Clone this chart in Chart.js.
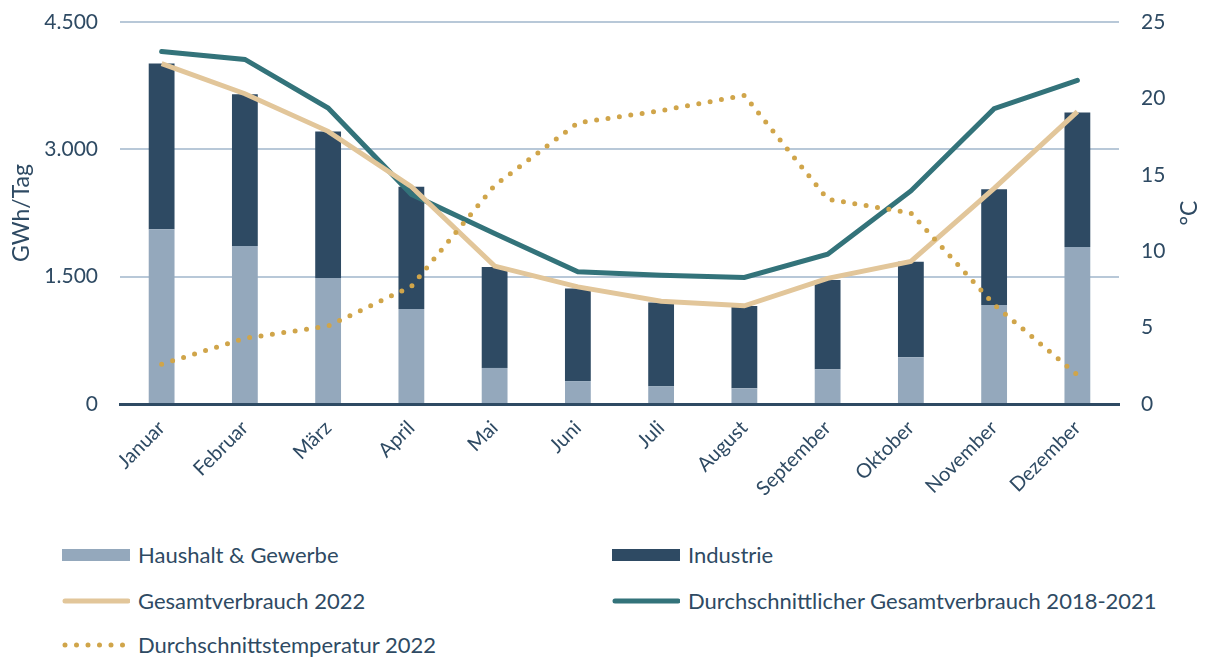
<!DOCTYPE html>
<html>
<head>
<meta charset="utf-8">
<script src="https://cdn.jsdelivr.net/npm/chart.js@4"></script>
<style>
  body { margin: 0; background: #fff; font-family: Lato, sans-serif; }
  #wrap { position: relative; width: 1206px; height: 530px; }
  #legend { position: absolute; left: 0; top: 530px; width: 1206px; height: 127px; }
  .item { position: absolute; display: flex; align-items: center; color: #2e4a63; font-size: 22px; white-space: nowrap; }
  .sym { width: 68px; height: 12px; margin-right: 8px; }
</style>
</head>
<body>
<div id="wrap"><canvas id="chart" width="1206" height="530"></canvas></div>
<div id="legend"></div>
<script>
const months = ['Januar', 'Februar', 'März', 'April', 'Mai', 'Juni', 'Juli', 'August', 'September', 'Oktober', 'November', 'Dezember'];
const haushalt = [2060, 1860, 1485, 1120, 425, 270, 210, 185, 410, 550, 1165, 1850];
const industrie = [1950, 1790, 1725, 1440, 1190, 1090, 985, 970, 1050, 1125, 1365, 1585];
const gesamt2022 = [4010, 3655, 3212, 2560, 1625, 1380, 1210, 1157, 1480, 1680, 2540, 3445];
const gesamtAvg = [4153, 4059, 3486, 2470, 2008, 1557, 1518, 1490, 1765, 2510, 3479, 3812];
const temperatur = [2.6, 4.3, 5.1, 7.7, 14.3, 18.4, 19.2, 20.2, 13.4, 12.5, 6.5, 1.9];
const leftTicks = [0, 1500, 3000, 4500];
const rightTicks = [0, 5, 10, 15, 20, 25];

const textColor = '#2e4a63';
const font = { family: 'Lato', size: 21 };

function fmt(v) {
  return String(v).replace(/\B(?=(\d{3})+(?!\d))/g, '.');
}

// right axis title reads bottom-to-top like the left one
const rightTitle = {
  id: 'rightTitle',
  afterDraw(c) {
    const ctx = c.ctx;
    const s = c.scales.y1;
    ctx.save();
    ctx.translate(1190, (s.top + s.bottom) / 2);
    ctx.rotate(-Math.PI / 2);
    ctx.font = '23px Lato';
    ctx.fillStyle = textColor;
    ctx.textAlign = 'center';
    ctx.textBaseline = 'middle';
    ctx.fillText('°C', 0, 0);
    ctx.restore();
  }
};

function fixBox(s, w) {
  s.width = w;
  s.paddingTop = 0;
  s.paddingBottom = 0;
}

const chart = new Chart(document.getElementById('chart'), {
  data: {
    labels: months,
    datasets: [
      { type: 'line', label: 'Durchschnittstemperatur 2022', data: temperatur, yAxisID: 'y1',
        borderColor: '#d0a54a', borderWidth: 5, borderDash: [0, 11.5], borderCapStyle: 'round',
        pointRadius: 0, tension: 0, order: 0, stack: 't' },
      { type: 'line', label: 'Gesamtverbrauch 2022', data: gesamt2022, yAxisID: 'y',
        borderColor: '#e2c69a', borderWidth: 5, pointRadius: 0, tension: 0, order: 1, stack: 'g' },
      { type: 'line', label: 'Durchschnittlicher Gesamtverbrauch 2018-2021', data: gesamtAvg, yAxisID: 'y',
        borderColor: '#33737a', borderWidth: 5, borderCapStyle: 'round', pointRadius: 0, tension: 0, order: 2, stack: 'a' },
      { type: 'bar', label: 'Haushalt & Gewerbe', data: haushalt, yAxisID: 'y',
        backgroundColor: '#94a8bc', stack: 'bars', order: 3, barPercentage: 0.31, categoryPercentage: 1 },
      { type: 'bar', label: 'Industrie', data: industrie, yAxisID: 'y',
        backgroundColor: '#2e4a63', stack: 'bars', order: 3, barPercentage: 0.31, categoryPercentage: 1 }
    ]
  },
  options: {
    responsive: false,
    animation: false,
    layout: { padding: { top: 22, left: 0, right: 0, bottom: 0 } },
    plugins: { legend: { display: false }, tooltip: { enabled: false } },
    scales: {
      x: {
        stacked: true,
        grid: { display: false },
        border: { display: true, color: '#2e4a63', width: 3 },
        ticks: { color: textColor, font: { family: 'Lato', size: 20 }, minRotation: 45, maxRotation: 45, padding: 4 },
        afterFit(s) { s.height = 126; s.paddingLeft = 0; s.paddingRight = 0; }
      },
      y: {
        stacked: true,
        position: 'left',
        min: 0, max: 4500,
        afterBuildTicks(s) { s.ticks = leftTicks.map(v => ({ value: v })); },
        grid: { color: '#b8c8d8', lineWidth: 2, drawTicks: false },
        border: { display: false },
        ticks: { color: textColor, font, padding: 22, callback: v => fmt(v) },
        title: { display: true, text: 'GWh/Tag', color: textColor, font: { family: 'Lato', size: 23 }, padding: { top: 8, bottom: 0 } },
        afterFit(s) { fixBox(s, 120); }
      },
      y1: {
        position: 'right',
        min: 0, max: 25,
        afterBuildTicks(s) { s.ticks = rightTicks.map(v => ({ value: v })); },
        grid: { display: false, drawTicks: false },
        border: { display: false },
        ticks: { color: textColor, font, padding: 22 },
        afterFit(s) { fixBox(s, 87); }
      }
    }
  },
  plugins: [rightTitle]
});

// HTML legend built from the chart's datasets
const legendPos = {
  'Haushalt & Gewerbe': [62, 555],
  'Industrie': [612, 555],
  'Gesamtverbrauch 2022': [62, 601],
  'Durchschnittlicher Gesamtverbrauch 2018-2021': [612, 601],
  'Durchschnittstemperatur 2022': [62, 645]
};
const legend = document.getElementById('legend');
chart.data.datasets.forEach(ds => {
  const pos = legendPos[ds.label];
  const item = document.createElement('div');
  item.className = 'item';
  item.style.left = pos[0] + 'px';
  item.style.top = (pos[1] - 530 - 14) + 'px';
  const sym = document.createElement('canvas');
  sym.className = 'sym';
  sym.width = 68; sym.height = 12;
  const g = sym.getContext('2d');
  if (ds.type === 'bar') {
    g.fillStyle = ds.backgroundColor;
    g.fillRect(0, 0, 68, 12);
  } else {
    g.strokeStyle = ds.borderColor;
    g.lineWidth = 5;
    g.lineCap = 'round';
    if (ds.borderDash) g.setLineDash([0, 11.5]);
    g.beginPath();
    g.moveTo(3, 6); g.lineTo(66, 6);
    g.stroke();
  }
  const span = document.createElement('span');
  span.textContent = ds.label;
  item.appendChild(sym);
  item.appendChild(span);
  legend.appendChild(item);
});
</script>
</body>
</html>
